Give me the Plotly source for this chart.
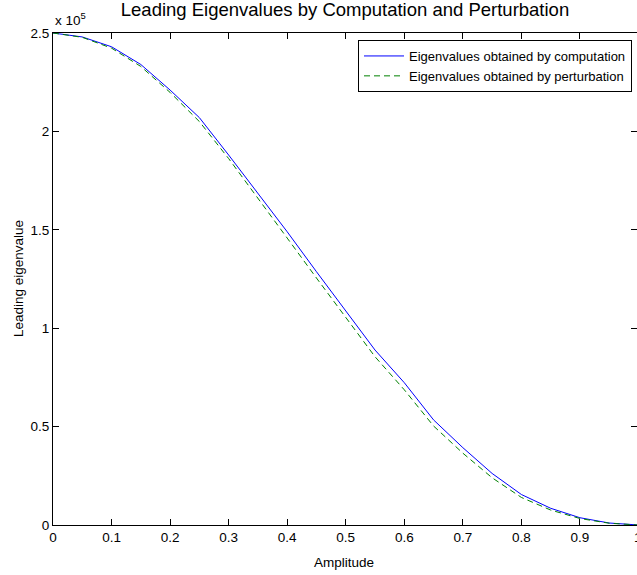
import plotly.graph_objects as go

amplitude = [0.0, 0.05, 0.1, 0.15, 0.2, 0.25, 0.3, 0.35, 0.4, 0.45, 0.5,
             0.55, 0.6, 0.65, 0.7, 0.75, 0.8, 0.85, 0.9, 0.95, 1.0]
computed = [2.50, 2.48, 2.43, 2.34, 2.21, 2.07, 1.88, 1.685, 1.49, 1.287, 1.09,
            0.889, 0.723, 0.534, 0.393, 0.262, 0.155, 0.085, 0.037, 0.010, 0.0]
perturbed = [2.50, 2.478, 2.423, 2.33, 2.198, 2.05, 1.862, 1.662, 1.458, 1.255, 1.055,
             0.855, 0.687, 0.503, 0.365, 0.240, 0.140, 0.076, 0.033, 0.009, 0.0]
scale = 1e5
computed_vals = [v * scale for v in computed]
perturbed_vals = [v * scale for v in perturbed]

x_ticks = [0, 0.1, 0.2, 0.3, 0.4, 0.5, 0.6, 0.7, 0.8, 0.9, 1.0]
x_ticktext = ["0", "0.1", "0.2", "0.3", "0.4", "0.5", "0.6", "0.7", "0.8", "0.9", "1"]
y_ticks = [0, 0.5, 1.0, 1.5, 2.0, 2.5]
y_ticktext = ["0", "0.5", "1", "1.5", "2", "2.5"]

FONT = "Liberation Sans, Arial, sans-serif"
FS = 13.5
W, H = 637, 575
ML, MR, MT, MB = 52.5, 0, 33, 50
PW, PH = W - ML - MR, H - MT - MB
px_per_unit = 586.0
x_max = PW / px_per_unit

fig = go.Figure()
fig.add_trace(go.Scatter(x=amplitude, y=computed_vals, mode="lines",
                         name="Eigenvalues obtained by computation",
                         line=dict(color="rgb(0,0,255)", width=1)))
fig.add_trace(go.Scatter(x=amplitude, y=perturbed_vals, mode="lines",
                         name="Eigenvalues obtained by perturbation",
                         line=dict(color="rgb(0,128,0)", width=1, dash="6px,4px")))

fig.update_layout(
    width=W, height=H,
    margin=dict(l=ML, r=MR, t=MT, b=MB, pad=0, autoexpand=False),
    paper_bgcolor="white", plot_bgcolor="white",
    font=dict(family=FONT, size=FS, color="black"),
    title=dict(text="Leading Eigenvalues by Computation and Perturbation",
               font=dict(family=FONT, size=18.5, color="black"),
               x=0.5, xref="paper", xanchor="center",
               y=1 - 10 / H, yref="container", yanchor="middle"),
    showlegend=True,
    legend=dict(x=(632 - ML) / PW, xanchor="right",
                y=(PH - (40 - MT)) / PH, yanchor="top",
                bgcolor="white", bordercolor="black", borderwidth=1,
                font=dict(family=FONT, size=13, color="black"),
                tracegroupgap=0, itemwidth=40),
    xaxis=dict(range=[0, x_max], tickvals=x_ticks, ticktext=x_ticktext,
               ticks="inside", ticklen=6, tickwidth=1, tickcolor="black",
               showline=True, linecolor="black", linewidth=1, mirror="ticks",
               showgrid=False, zeroline=False, automargin=False,
               tickfont=dict(family=FONT, size=FS, color="black")),
    yaxis=dict(range=[0, 2.5 * scale], tickvals=[v * scale for v in y_ticks],
               ticktext=y_ticktext,
               ticks="inside", ticklen=6, tickwidth=1, tickcolor="black",
               showline=True, linecolor="black", linewidth=1, mirror="ticks",
               showgrid=False, zeroline=False, automargin=False,
               tickfont=dict(family=FONT, size=FS, color="black")),
)

# axis titles
fig.add_annotation(text="Amplitude", xref="paper", yref="paper",
                   x=(344 - ML) / PW, y=0, xanchor="center", yanchor="top", yshift=-28,
                   showarrow=False, font=dict(family=FONT, size=FS, color="black"))
fig.add_annotation(text="Leading eigenvalue", xref="paper", yref="paper",
                   x=0, y=0.5, xanchor="center", yanchor="middle", xshift=-(ML - 17.5),
                   textangle=-90, showarrow=False,
                   font=dict(family=FONT, size=FS, color="black"))
# exponent label
fig.add_annotation(text="x 10<sup>5</sup>", xref="paper", yref="paper",
                   x=0, y=1, xanchor="left", yanchor="bottom", yshift=3,
                   showarrow=False, font=dict(family=FONT, size=FS, color="black"))
# last x tick label (falls just past the figure edge)
fig.add_annotation(text=x_ticktext[-1], xref="paper", yref="paper",
                   x=x_ticks[-1] / x_max, y=0, xanchor="center", yanchor="top", yshift=-3,
                   showarrow=False, font=dict(family=FONT, size=FS, color="black"))

fig.write_html("out.html",
               config={"displayModeBar": False},
               post_script="document.body.style.margin='0';document.body.style.overflow='hidden';")
